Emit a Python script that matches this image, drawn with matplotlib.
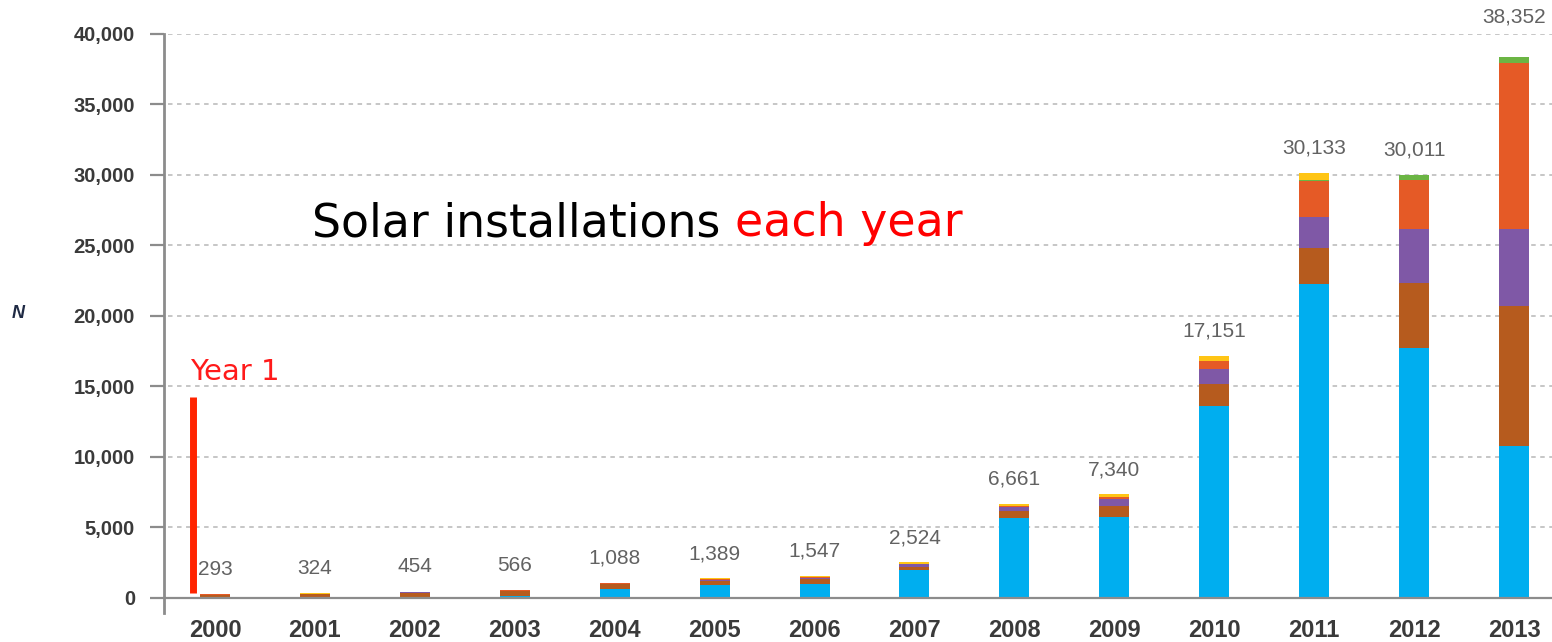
import numpy as np
import matplotlib.pyplot as plt

# annual solar installations by segment (MW)
years = ['2000', '2001', '2002', '2003', '2004', '2005', '2006',
         '2007', '2008', '2009', '2010', '2011', '2012', '2013']
totals = [293, 324, 454, 566, 1088, 1389, 1547, 2524, 6661, 7340, 17151, 30133, 30011, 38352]

blue = [20, 60, 100, 170, 650, 900, 990, 1980, 5650, 5760, 13600, 22250, 17700, 10800]
brown = [200, 200, 280, 300, 340, 330, 380, 220, 520, 780, 1550, 2550, 4650, 9900]
purple = [10, 10, 20, 30, 20, 50, 40, 180, 300, 480, 1100, 2200, 3800, 5450]
orange = [50, 40, 30, 40, 40, 40, 50, 60, 80, 150, 570, 2550, 3500, 11770]
green = [0, 0, 0, 0, 0, 0, 0, 0, 0, 0, 0, 100, 361, 432]
yellow = [13, 14, 24, 26, 38, 69, 87, 84, 111, 170, 331, 483, 0, 0]

segments = [blue, brown, purple, orange, green, yellow]
colors = ['#00AEEF', '#B65B1E', '#7F58A6', '#E55A26', '#6BB544', '#FFC515']

yticks = [0, 5000, 10000, 15000, 20000, 25000, 30000, 35000, 40000]

fig = plt.figure(figsize=(15.52, 6.42), dpi=100)
ax = fig.add_axes([0.1057, 0.0452, 0.8943, 0.9019])

x = np.arange(len(years))
bottom = np.zeros(len(years))
for vals, c in zip(segments, colors):
    ax.bar(x, vals, 0.30, bottom=bottom, color=c, zorder=3)
    bottom += np.array(vals)

# value labels above each bar
for i, t in enumerate(totals):
    off = 22 if i == len(totals) - 1 else 11
    ax.annotate(f'{t:,}', (x[i], bottom[i]), xytext=(0, off), textcoords='offset points',
                ha='center', va='bottom', fontsize=15, color='#626262',
                family='Liberation Sans', clip_on=False, annotation_clip=False)

ax.set_xlim(-0.51, 13.38)
ax.set_ylim(-1064, 40000)

for yv in yticks[1:]:
    ax.axhline(yv, xmin=0.003, color='#c2c2c2', lw=1.3, ls=(0, (2.5, 2.5)), zorder=1)
ax.axhline(0, color='#8c8c8c', lw=1.6, zorder=4)

for s in ['top', 'right', 'bottom']:
    ax.spines[s].set_visible(False)
ax.spines['left'].set_color('#8c8c8c')
ax.spines['left'].set_linewidth(2)

ax.set_yticks(yticks)
ax.set_yticklabels([f'{v:,}' for v in yticks])
ax.tick_params(axis='y', length=10, width=1.6, color='#8c8c8c', pad=11,
               labelsize=14.5, labelcolor='#3a3a3a')
ax.set_xticks(x)
ax.set_xticklabels(years)
ax.tick_params(axis='x', length=0, pad=4, labelsize=17, labelcolor='#3a3a3a')
for lab in ax.get_yticklabels() + ax.get_xticklabels():
    lab.set_family('Liberation Sans')
    lab.set_fontweight('bold')

fig.text(18 / 1552, 1 - 313 / 642, 'N', fontsize=13, fontweight='bold', style='italic',
         color='#1f2a44', family='Liberation Sans', ha='center', va='center')

# headline, black then red
t1 = ax.text(0.97, 25650, 'Solar installations ', fontsize=33,
             family='DejaVu Sans', color='black', va='baseline', ha='left')
fig.canvas.draw()
bb = t1.get_window_extent()
x_end = ax.transData.inverted().transform((bb.x1, bb.y0))[0]
ax.text(x_end, 25650, 'each year', fontsize=33,
        family='DejaVu Sans', color='#FF0000', va='baseline', ha='left')

# first-year marker
ax.vlines(-0.22, 355, 14270, color='#FF2400', lw=5, zorder=5)
ax.text(-0.25, 15450, 'Year 1', fontsize=21, family='DejaVu Sans',
        color='#FF1A1A', ha='left', va='baseline')

fig.savefig('out.png', dpi=100)
